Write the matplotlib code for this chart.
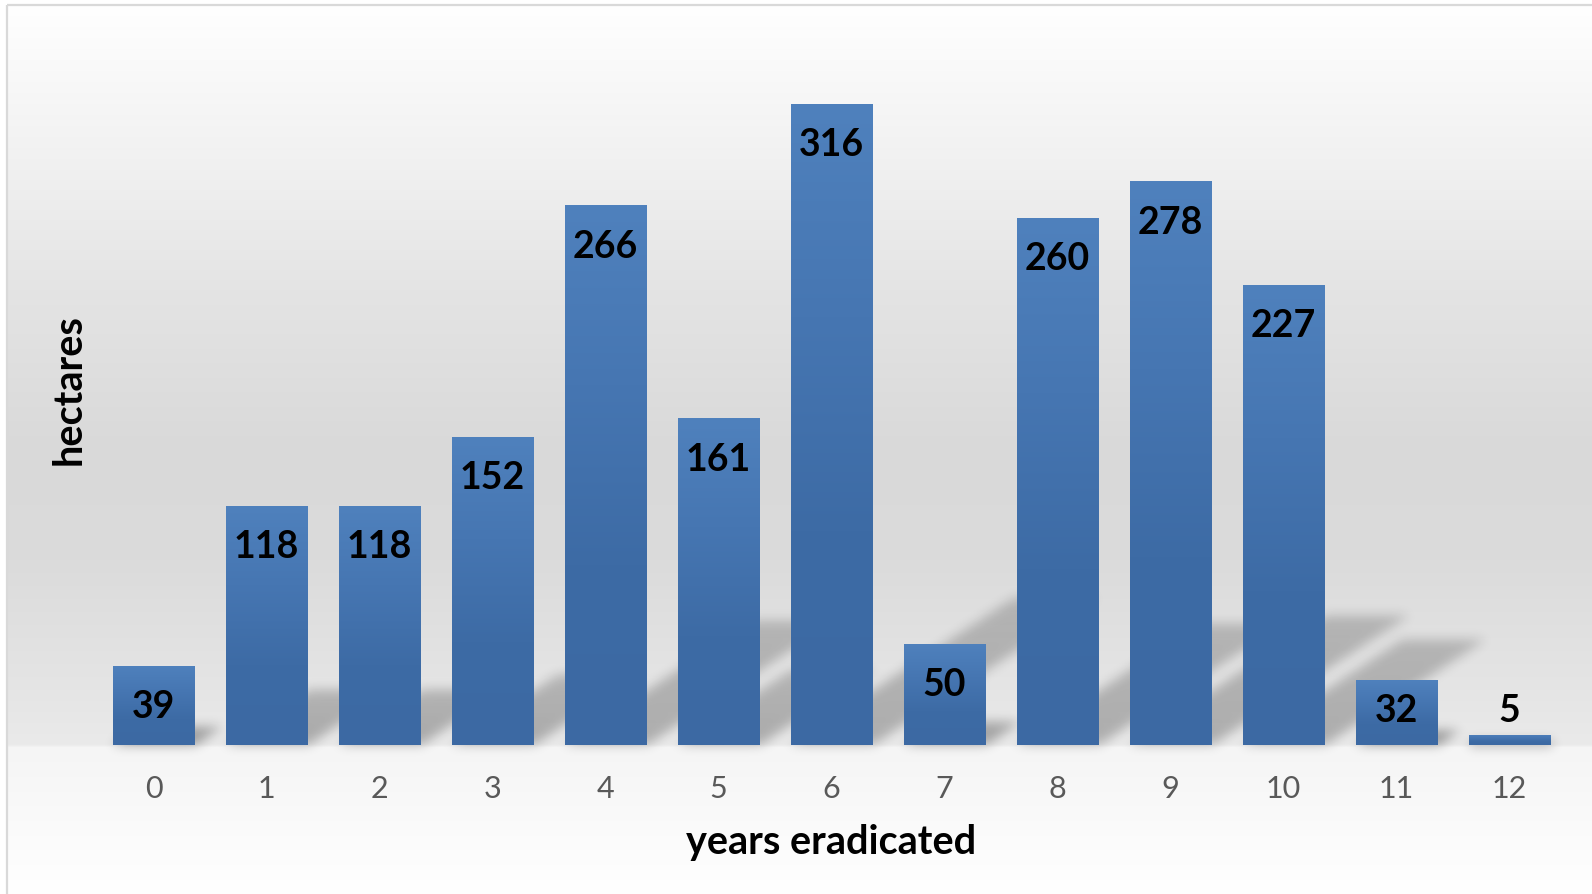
import numpy as np
import matplotlib
matplotlib.use("Agg")
import matplotlib.pyplot as plt
from matplotlib.collections import PolyCollection
from matplotlib.colors import LinearSegmentedColormap

# ---------------- data ----------------
categories = ['0', '1', '2', '3', '4', '5', '6', '7', '8', '9', '10', '11', '12']
values = [39, 118, 118, 152, 266, 161, 316, 50, 260, 278, 227, 32, 5]
x_title = 'years eradicated'
y_title = 'hectares'

# ---------------- figure ----------------
W, H, DPI = 1592, 894, 100
plt.rcParams['font.family'] = ['Lato', 'DejaVu Sans']
fig = plt.figure(figsize=(W / DPI, H / DPI), dpi=DPI)

# background gradient (chart area)
bg = fig.add_axes([0, 0, 1, 1], zorder=-10)
bg.set_axis_off()
stops_y = [0, 5, 60, 170, 290, 450, 560, 690, 744, 747, 894]
stops_g = [255, 255, 250, 240, 228, 217, 219, 229, 234, 245, 255]
g = np.interp(np.arange(H), stops_y, stops_g) / 255.0
rgb = np.dstack([g[:, None]] * 3)
bg.imshow(rgb, extent=[0, W, H, 0], aspect='auto', interpolation='bilinear')
bg.fill_between([0, 7], 0, H, color='white', lw=0)
bg.plot([7, 7], [5, H], color='#d9d9d9', lw=1.6, solid_capstyle='butt')
bg.plot([7, W], [5, 5], color='#d9d9d9', lw=1.6, solid_capstyle='butt')
bg.set_xlim(0, W)
bg.set_ylim(H, 0)

# plot axes
ax_l, ax_r, ax_b, ax_t = 97, 1566, 745, 35
ax = fig.add_axes([ax_l / W, (H - ax_b) / H, (ax_r - ax_l) / W, (ax_b - ax_t) / H])
ax.patch.set_alpha(0)
YMAX = 350
n = len(values)
xpos = np.arange(n)
bw = 0.72

# ---------------- shadows ----------------
px_x = (ax_r - ax_l) / n
px_y = (ax_b - ax_t) / YMAX


def blur2d(a, sigma):
    r = int(3 * sigma)
    k = np.exp(-0.5 * (np.arange(-r, r + 1) / sigma) ** 2)
    k /= k.sum()
    p = np.pad(a, ((r, r), (0, 0)))
    out = np.zeros_like(a)
    for i in range(2 * r + 1):
        out += k[i] * p[i:i + a.shape[0]]
    p = np.pad(out, ((0, 0), (r, r)))
    out2 = np.zeros_like(a)
    for i in range(2 * r + 1):
        out2 += k[i] * p[:, i:i + a.shape[1]]
    return out2


class ShadowBlur:
    def __init__(self, sigma):
        self.sigma = sigma

    def __call__(self, im, dpi):
        pad = int(3 * self.sigma) + 2
        a = np.pad(im[..., 3], pad)
        a = blur2d(a, self.sigma)
        out = np.zeros(a.shape + (4,))
        out[..., 3] = np.clip(a, 0, 1)
        return out, -pad, -pad


polys, alphas = [], []
nsl = 14
for xi, v in zip(xpos, values):
    x0, x1 = xi - bw / 2, xi + bw / 2
    dx = 0.35 * v * px_y / px_x
    dy = 0.23 * v
    for k in range(nsl):
        t0, t1 = k / nsl, (k + 1) / nsl
        polys.append([(x0 + dx * t0, dy * t0), (x1 + dx * t0, dy * t0),
                      (x1 + dx * t1, dy * t1), (x0 + dx * t1, dy * t1)])
        alphas.append(0.24 - 0.06 * (t0 + t1) / 2)
fc = [(0, 0, 0, a) for a in alphas]
shadow = PolyCollection(polys, facecolors=fc, edgecolors='none', zorder=2, antialiased=False)
shadow.set_agg_filter(ShadowBlur(4))
ax.add_collection(shadow)

# ---------------- bars ----------------
bar_cmap = LinearSegmentedColormap.from_list('barg', ['#4f81bd', '#4676b2', '#3d6ba5', '#3c69a3'])
bars = ax.bar(xpos, values, width=bw, color='#4472ae', zorder=3, linewidth=0)
grad = np.linspace(0, 1, 256)[:, None]
for b in bars:
    x0, y0, w, h = b.get_x(), b.get_y(), b.get_width(), b.get_height()
    im = ax.imshow(grad, cmap=bar_cmap, extent=[x0, x0 + w, y0, y0 + h], origin='upper',
                   aspect='auto', zorder=4, interpolation='bilinear')
    im.set_clip_path(b)

# ---------------- data labels ----------------
lab_fs = 27
for xi, v in zip(xpos, values):
    hpx = v * px_y
    if v >= 20:
        depth = 39 if hpx > 72 else hpx / 2 - 4
        off = -(depth + 13.5) * 72 / DPI
    else:
        off = (26 - 13.5) * 72 / DPI
    ax.annotate(str(v), (xi, v), xytext=(0, off), textcoords='offset points',
                ha='center', va='baseline', fontsize=lab_fs, fontweight='bold',
                color='black', zorder=6)

# ---------------- axes styling ----------------
ax.set_xlim(-0.5, n - 0.5)
ax.set_ylim(0, YMAX)
for s in ax.spines.values():
    s.set_visible(False)
ax.set_yticks([])
ax.set_xticks(xpos, categories)
ax.tick_params(axis='x', length=0, pad=21.5, labelsize=22, labelcolor='#595959')
ax.set_xlabel(x_title, fontsize=28.5, fontweight='bold', color='black', labelpad=15)
ax.set_ylabel(y_title, fontsize=28.5, fontweight='bold', color='black', labelpad=7)

fig.savefig('out.png', dpi=DPI)
